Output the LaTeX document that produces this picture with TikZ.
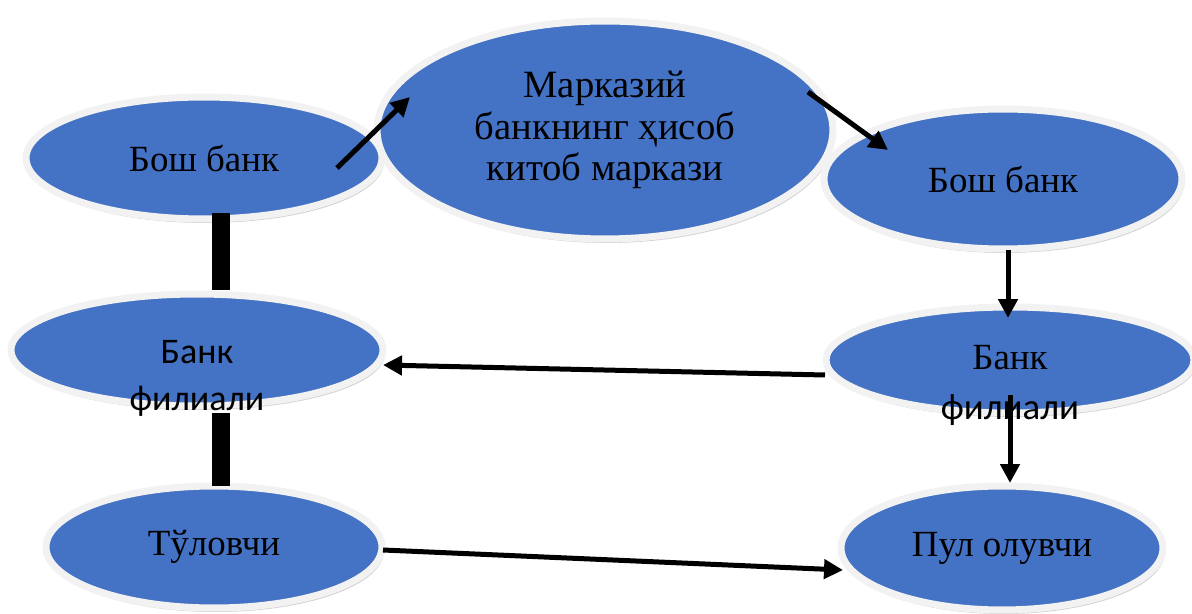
\documentclass[tikz,border=0pt]{standalone}
\usepackage{fontspec}
\setmainfont{Liberation Serif}
\newfontfamily\calibri{Carlito}
\usepackage{xcolor}
\usepackage{tikz}
\usetikzlibrary{arrows.meta, shapes.geometric, shadows, calc}

\definecolor{bubbleblue}{RGB}{68,114,196}
\definecolor{rimgray}{RGB}{242,242,242}

\begin{document}
\begin{tikzpicture}[
            x=0.02cm, y=-0.02cm,                 % one unit = one pixel of the layout
            bubble/.style={
                ellipse,
                draw=rimgray,
                line width=0.14cm,
                fill=bubbleblue,
                inner sep=0pt,
                drop shadow={shadow xshift=0.04cm, shadow yshift=-0.08cm, opacity=0.45, fill=gray!80},
                font=\fontsize{21}{25}\selectfont
            },
            line/.style={
                draw,
                line width=0.1cm,
                -{Triangle[length=0.38cm, width=0.38cm]}
            },
            bar/.style={
                draw,
                line width=0.36cm
            }
        ]
            \useasboundingbox (0,0) rectangle (1192,614);

            % --- NODES ---
            \node [bubble, minimum width=7.12cm, minimum height=2.44cm] (bankL) at (204,158) {Бош банк};

            \node [bubble, minimum width=9.12cm, minimum height=4.36cm, align=center,
                   font=\fontsize{22}{23.6}\selectfont] (center) at (605,130) {
                Марказий \\
                банкнинг ҳисоб \\
                китоб маркази
            };

            \node [bubble, minimum width=7.16cm, minimum height=2.8cm] (bankR) at (1003,179) {Бош банк};

            \node [bubble, minimum width=7.44cm, minimum height=2.24cm] (filL) at (197,350) {};
            \node [align=center, font=\calibri\fontsize{20.5}{26.7}\selectfont] at ($(filL.center)+(0,28)$) {Банк \\ филиали};

            \node [bubble, minimum width=7.36cm, minimum height=2.12cm] (filR) at (1010,360) {};

            \node [bubble, minimum width=6.72cm, minimum height=2.44cm] (tol) at (214,547) {Тўловчи};

            \node [bubble, minimum width=6.44cm, minimum height=2.48cm] (pul) at (1002,548) {Пул олувчи};

            % --- LINKS ---
            \path [line] ($(bankL.center)+(133,10)$) -- ($(center.center)+(-195,-33)$);
            \path [line] ($(center.center)+(203,-38)$) -- ($(bankR.center)+(-115,-29)$);
            \path [line] ($(bankR.center)+(5,71)$) -- ($(filR.center)+(-2,-42)$);
            \path [line] ($(filR.center)+(-185,15)$) -- ($(filL.center)+(186,15)$);
            \node [align=center, font=\fontsize{21}{28.5}\selectfont] at ($(filR.center)+(0,25)$) {Банк \\ {\calibri филиали}};
            \path [line] ($(filR.center)+(0,35)$) -- ($(pul.center)+(8,-65)$);
            \path [line] ($(tol.center)+(169,3)$) -- ($(pul.center)+(-159,22)$);

            \path [bar] ($(bankL.center)+(17,55)$) -- ($(filL.center)+(24,-60)$);
            \path [bar] ($(filL.center)+(24,63)$) -- ($(tol.center)+(7,-61)$);
        \end{tikzpicture}
\end{document}
